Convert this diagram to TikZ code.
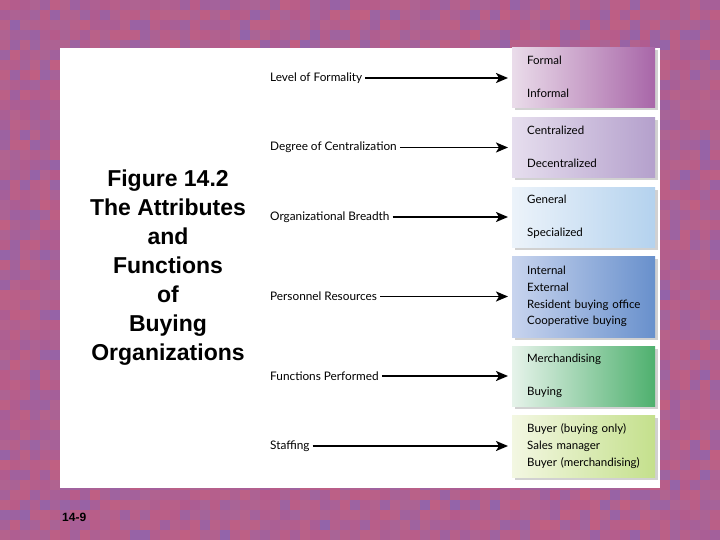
\documentclass[tikz,border=0pt]{standalone}
\usepackage{fontspec}
\setmainfont{Lato}
\newfontfamily\arialf{Liberation Sans}
\usetikzlibrary{arrows.meta, positioning, calc, shadows}
\definecolor{mosa}{HTML}{B45A8C}
\definecolor{mosb}{HTML}{8E64AE}
\definecolor{mosc}{HTML}{CC6478}
\definecolor{frmA}{HTML}{EADCEA} \definecolor{frmB}{HTML}{A866A8}
\definecolor{cenA}{HTML}{E6DEEE} \definecolor{cenB}{HTML}{B4A0CC}
\definecolor{brdA}{HTML}{ECF3FA} \definecolor{brdB}{HTML}{B4D2EE}
\definecolor{perA}{HTML}{C8D4EE} \definecolor{perB}{HTML}{6890CC}
\definecolor{fncA}{HTML}{E6F3EA} \definecolor{fncB}{HTML}{4EB06E}
\definecolor{stfA}{HTML}{F3F7E2} \definecolor{stfB}{HTML}{C4E08C}
\begin{document}
\begin{tikzpicture}[x=1pt, y=-1pt, >={Stealth[length=12pt, width=10pt, inset=3pt]},
          font=\fontsize{11.5}{16.7}\selectfont,
          lab/.style={anchor=west, inner sep=0pt, font=\fontsize{11.8}{14}\selectfont},
          box/.style={anchor=north west, minimum width=143pt, minimum height=60pt, inner xsep=15pt,
                      text width=113pt, align=left,
                      drop shadow={shadow xshift=2.5pt, shadow yshift=-2.5pt, fill=black!18, opacity=1}},
          ar/.style={->, line width=1.8pt, shorten >=4pt, shorten <=3pt}]
        \useasboundingbox (0,0) rectangle (720,540);
        % mosaic backdrop
        \pgfmathsetseed{17}
        \foreach \i in {0,...,71}{ \foreach \j in {0,...,53}{ \pgfmathsetmacro{\p}{int(100*rnd)} \pgfmathsetmacro{\q}{int(45+50*rnd)}
          \fill[mosa!\p!mosb!\q!mosc] (10*\i,10*\j) rectangle ++(10.5,10.5); } }
        \fill[white] (60,48) rectangle (660,488);
        \node[font=\arialf\bfseries\fontsize{23}{29}\selectfont, align=center] (ttl) at (168,268)
          {Figure 14.2\\The Attributes\\and\\Functions\\of\\Buying\\Organizations};
        \node[font=\arialf\bfseries\fontsize{12}{14}\selectfont, anchor=west, inner sep=0pt] (pg) at (62,517) {14-9};
        % attribute boxes
        \node[box, left color=frmA, right color=frmB] (b1) at (512,47) {Formal\\[16.3pt]Informal};
        \node[box, left color=cenA, right color=cenB] (b2) at (512,117) {Centralized\\[16.3pt]Decentralized};
        \node[box, left color=brdA, right color=brdB] (b3) at (512,187) {General\\[16.3pt]Specialized};
        \node[box, left color=perA, right color=perB, minimum height=81pt] (b4) at (512,256)
          {Internal\\External\\\mbox{Resident buying office}\\Cooperative buying};
        \node[box, left color=fncA, right color=fncB] (b5) at (512,346) {Merchandising\\[16.3pt]Buying};
        \node[box, left color=stfA, right color=stfB, minimum height=62pt] (b6) at (512,415)
          {Buyer (buying only)\\Sales manager\\\mbox{Buyer (merchandising)}};
        % attribute labels
        \node[lab] (l1) at (270,78) {Level of Formality};
        \node[lab] (l2) at (270,147.5) {Degree of Centralization};
        \node[lab] (l3) at (270,217) {Organizational Breadth};
        \node[lab] (l4) at (270,296.5) {Personnel Resources};
        \node[lab] (l5) at (270,376) {Functions Performed};
        \node[lab] (l6) at (270,446) {Staffing};
        \foreach \k in {1,...,6}{ \draw[ar] (l\k.east) -- (l\k.east -| b\k.west); }
      \end{tikzpicture}
\end{document}
